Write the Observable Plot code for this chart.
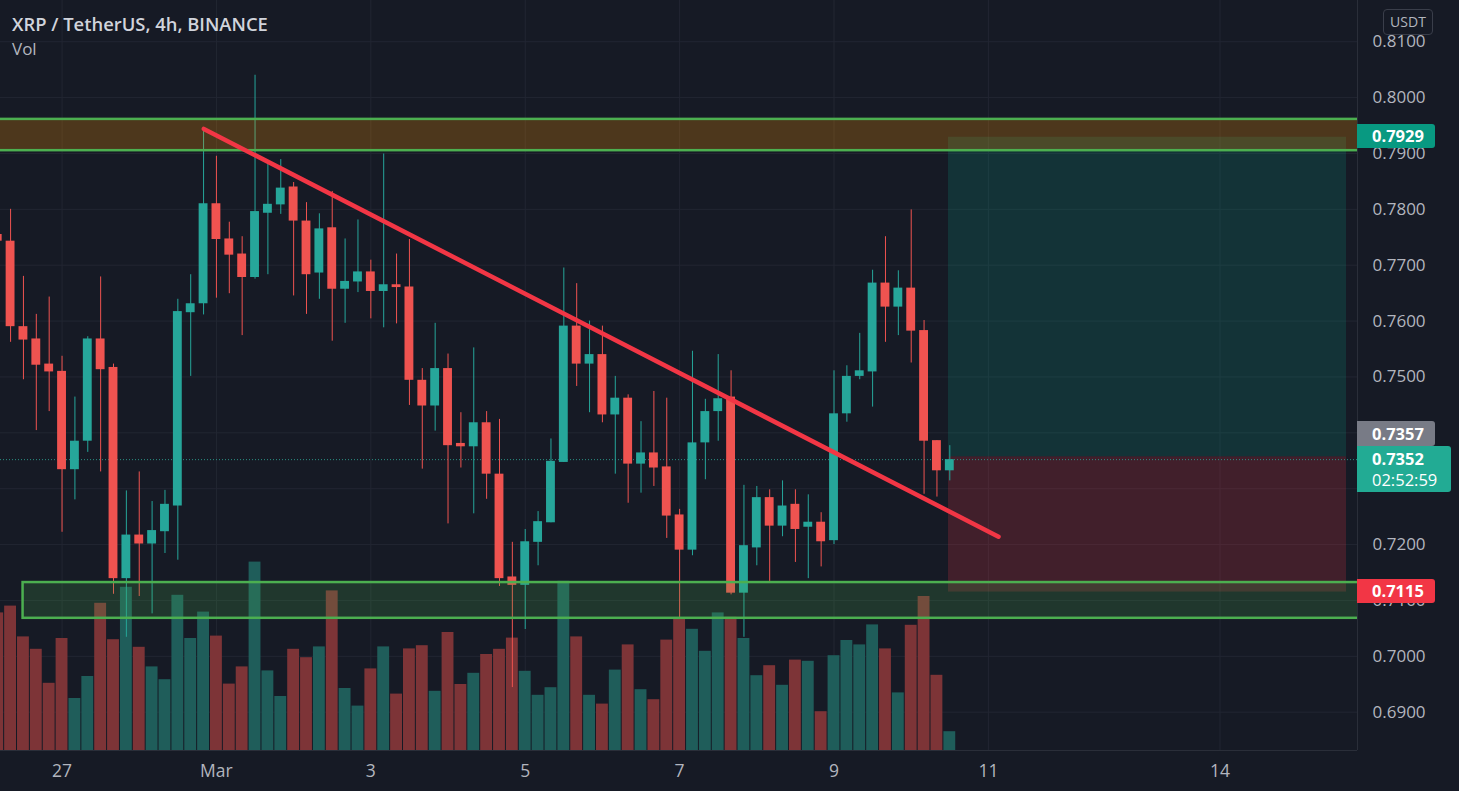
<!DOCTYPE html>
<html><head><meta charset="utf-8">
<script src="https://cdn.jsdelivr.net/npm/d3@7"></script>
<script src="https://cdn.jsdelivr.net/npm/@observablehq/plot@0.6"></script>
<style>
body{margin:0;background:#161a25;}
#wrap{position:relative;width:1459px;height:791px;overflow:hidden;background:#161a25;font-family:"Open Sans","Noto Sans",sans-serif;}
.layer{position:absolute;left:0;top:0;}
.title{position:absolute;left:12px;top:11px;color:#d1d4dc;font-size:18.4px;font-weight:600;white-space:nowrap;}
.vol{position:absolute;left:12px;top:37px;color:#b2b5be;font-size:17px;}
.usdt{position:absolute;left:1383px;top:9px;width:48px;height:24px;border:1px solid #3a3e4a;border-radius:4px;background:#161a25;color:#b2b5be;font-size:14px;line-height:24px;text-align:center;}
.plabel{position:absolute;left:1357px;color:#fff;font-size:16.5px;font-weight:700;padding-left:15px;box-sizing:border-box;border-radius:0 3px 3px 0;white-space:nowrap;}
</style></head>
<body><div id="wrap"></div>
<script>
// ---- data ----
const firstCandle = "2022-02-26T04:00Z"; // 4h candles
const opens = [0.7755,0.7743,0.7590,0.7568,0.7523,0.7510,0.7334,0.7385,0.7568,0.7517,
0.7139,0.7217,0.7201,0.7223,0.7269,0.7615,0.7631,0.7810,0.7747,0.7720,
0.7678,0.7793,0.7808,0.7840,0.7779,0.7686,0.7767,0.7657,0.7670,0.7688,
0.7653,0.7665,0.7661,0.7494,0.7448,0.7515,0.7381,0.7375,0.7418,0.7326,
0.7142,0.7127,0.7204,0.7239,0.7347,0.7591,0.7523,0.7540,0.7432,0.7462,
0.7344,0.7364,0.7339,0.7253,0.7190,0.7382,0.7438,0.7464,0.7113,0.7194,
0.7284,0.7233,0.7272,0.7231,0.7240,0.7207,0.7434,0.7501,0.7509,0.7668,
0.7625,0.7659,0.7583,0.7386,0.7332];
const highs = [0.7765,0.7800,0.7680,0.7612,0.7643,0.7537,0.7464,0.7572,0.7679,0.7523,
0.7296,0.7330,0.7277,0.7297,0.7639,0.7683,0.7944,0.7895,0.7777,0.7751,
0.8040,0.7883,0.7889,0.7848,0.7812,0.7792,0.7832,0.7747,0.7781,0.7709,
0.7899,0.7720,0.7746,0.7515,0.7596,0.7541,0.7436,0.7552,0.7438,0.7424,
0.7204,0.7227,0.7259,0.7389,0.7695,0.7667,0.7600,0.7591,0.7501,0.7468,
0.7420,0.7474,0.7462,0.7263,0.7546,0.7460,0.7540,0.7511,0.7306,0.7304,
0.7298,0.7314,0.7298,0.7289,0.7257,0.7511,0.7520,0.7578,0.7691,0.7751,
0.7690,0.7799,0.7601,0.7386,0.7377];
const lows = [0.7735,0.7562,0.7495,0.7404,0.7438,0.7222,0.7280,0.7365,0.7330,0.7111,
0.7034,0.7107,0.7076,0.7184,0.7172,0.7501,0.7611,0.7641,0.7649,0.7574,
0.7675,0.7683,0.7791,0.7645,0.7612,0.7639,0.7564,0.7596,0.7651,0.7604,
0.7588,0.7595,0.7449,0.7335,0.7403,0.7237,0.7337,0.7255,0.7281,0.7125,
0.6944,0.7048,0.7162,0.7239,0.7347,0.7483,0.7436,0.7418,0.7326,0.7274,
0.7292,0.7304,0.7211,0.7069,0.7180,0.7316,0.7385,0.7110,0.7034,0.7162,
0.7134,0.7214,0.7168,0.7139,0.7160,0.7200,0.7419,0.7495,0.7446,0.7562,
0.7574,0.7525,0.7290,0.7285,0.7314];
const closes = [0.7743,0.7590,0.7566,0.7521,0.7509,0.7334,0.7385,0.7568,0.7513,0.7139,
0.7217,0.7201,0.7225,0.7272,0.7617,0.7631,0.7810,0.7746,0.7718,0.7678,
0.7796,0.7809,0.7838,0.7779,0.7683,0.7765,0.7657,0.7671,0.7688,0.7653,
0.7665,0.7660,0.7494,0.7448,0.7515,0.7377,0.7375,0.7418,0.7326,0.7139,
0.7127,0.7205,0.7241,0.7349,0.7591,0.7523,0.7540,0.7432,0.7462,0.7344,
0.7364,0.7337,0.7251,0.7190,0.7382,0.7438,0.7461,0.7113,0.7198,0.7284,
0.7233,0.7269,0.7227,0.7240,0.7205,0.7434,0.7501,0.7511,0.7668,0.7625,
0.7659,0.7582,0.7385,0.7332,0.7352];
const volumesM = [34.4,36.1,28.4,25.3,16.8,28.0,13.0,18.5,36.8,27.7,
40.8,25.8,20.9,17.7,38.8,28.0,34.6,28.6,16.6,20.9,
47.1,19.9,13.5,25.3,23.2,25.9,39.9,15.5,11.1,20.4,
25.9,14.1,25.4,26.2,14.8,29.5,16.5,19.3,24.0,25.3,
28.1,19.8,13.8,15.7,42.3,28.4,13.8,11.6,20.1,26.4,
15.2,12.7,27.6,32.8,30.3,24.8,34.4,33.3,28.0,18.7,
21.2,16.3,22.6,22.3,9.7,23.7,27.5,26.4,31.4,25.4,
14.4,31.3,38.5,18.8,4.7];

const gridPrices = [0.69,0.70,0.71,0.72,0.73,0.74,0.75,0.76,0.77,0.78,0.79,0.80,0.81];
const labelPrices = [0.69,0.70,0.71,0.72,0.75,0.76,0.77,0.78,0.79,0.80,0.81];
const dayTicks = ["2022-02-27","2022-03-01","2022-03-03","2022-03-05","2022-03-07","2022-03-09","2022-03-11","2022-03-14"];
const dayLabels = ["27","Mar","3","5","7","9","11","14"];

// drawings
const zones = [
  {from:"2022-02-20T00:00Z", to:"2022-03-30T00:00Z", low:0.7905, high:0.7961, kind:"res"},
  {from:"2022-02-26T11:53Z", to:"2022-03-30T00:00Z", low:0.7068, high:0.7132, kind:"sup"}
];
const trendline = [["2022-02-28T20:05Z",0.7944],["2022-03-11T03:09Z",0.7214]];
const position = {from:"2022-03-10T11:35Z", to:"2022-03-15T15:20Z", target:0.7929, entry:0.7357, stop:0.7115};
const lastPrice = 0.7352, countdown = "02:52:59";
const title = "XRP / TetherUS, 4h, BINANCE";

// ---- build ----
const H4 = 4*3600e3;
const t0 = +new Date(firstCandle);
const candles = opens.map((o,i)=>({t:new Date(t0+i*H4), open:o, high:highs[i], low:lows[i], close:closes[i], vol:volumesM[i], up:closes[i]>=o}));
const UP="#26a69a", DOWN="#ef5350";
const ticks = dayTicks.map(d=>new Date(d+"T00:00Z"));
const timeDomain=[new Date("2022-02-26T04:52Z"), new Date("2022-03-15T18:45Z")];
const priceDomain=[0.68314,0.81738];
const FONT='"Open Sans","Noto Sans",sans-serif';
const base = {width:1459,height:791,marginLeft:0,marginRight:102,marginTop:0,marginBottom:41,
  color:{type:"identity"},
  style:{background:"transparent",fontFamily:FONT,fontSize:"17px"}};

const wrap=document.getElementById("wrap");
function add(el){el.classList.add("layer");wrap.appendChild(el);return el;}

// layer 1: grid + axes
add(Plot.plot({...base,
  x:{type:"utc",domain:timeDomain},
  y:{domain:priceDomain},
  marks:[
    Plot.ruleY(gridPrices,{stroke:"#222632"}),
    Plot.ruleX(ticks,{stroke:"#222632"}),
    Plot.axisY(labelPrices,{anchor:"right",tickSize:0,tickPadding:15,tickFormat:d=>d.toFixed(4),fill:"#b2b5be",fontSize:17,label:null}),
    Plot.axisX(ticks,{anchor:"bottom",tickSize:0,tickPadding:14,tickFormat:d=>dayLabels[ticks.findIndex(t=>+t===+d)],fill:"#b2b5be",fontSize:17.5,label:null}),
    Plot.ruleX([timeDomain[1]],{stroke:"#2a2e39"}),
    Plot.ruleY([priceDomain[0]],{stroke:"#2a2e39"})
  ]}));

// layer 2: volume
add(Plot.plot({...base,
  x:{type:"utc",domain:timeDomain,axis:null},
  y:{domain:[0,187.5],axis:null},
  marks:[
    Plot.rectY(candles,{x1:d=>new Date(+d.t-H4/2),x2:d=>new Date(+d.t+H4/2),y:"vol",
      fill:d=>d.up?"#1f5d5a":"#7d3437",insetLeft:0.5,insetRight:0.5,clip:true})
  ]}));

// layer 3: candles and drawings
const posBoxes=[
  {from:position.from,to:position.to,y1:position.entry,y2:position.target,fill:"rgba(8,153,129,0.2)"},
  {from:position.from,to:position.to,y1:position.stop,y2:position.entry,fill:"rgba(242,54,69,0.2)"}
];
const main = add(Plot.plot({...base,
  x:{type:"utc",domain:timeDomain,axis:null},
  y:{domain:priceDomain,axis:null},
  marks:[
    Plot.rect(posBoxes,{x1:d=>new Date(d.from),x2:d=>new Date(d.to),y1:"y1",y2:"y2",fill:"fill",clip:true}),
    Plot.ruleY([lastPrice],{stroke:"#2e9c8f",strokeDasharray:"1,2",strokeOpacity:0.9}),
    Plot.ruleX(candles,{x:"t",y1:"low",y2:"high",stroke:d=>d.up?UP:DOWN,strokeWidth:1,clip:true}),
    Plot.rect(candles,{x1:d=>new Date(+d.t-H4/2),x2:d=>new Date(+d.t+H4/2),y1:"open",y2:"close",
      fill:d=>d.up?UP:DOWN,insetLeft:2,insetRight:2,clip:true}),
    Plot.rect(zones,{x1:d=>new Date(d.from),x2:d=>new Date(d.to),y1:"low",y2:"high",
      fill:d=>d.kind==="res"?"rgba(255,152,0,0.24)":"rgba(76,175,80,0.2)",stroke:"#4caf50",strokeWidth:2.5,clip:true}),
    Plot.line(trendline,{x:d=>new Date(d[0]),y:d=>d[1],stroke:"#f23645",strokeWidth:4.5,strokeLinecap:"round",clip:true})
  ]}));

// title and legend
const tdiv=document.createElement("div");tdiv.className="title";tdiv.textContent=title;wrap.appendChild(tdiv);
const vdiv=document.createElement("div");vdiv.className="vol";vdiv.textContent="Vol";wrap.appendChild(vdiv);
const udiv=document.createElement("div");udiv.className="usdt";udiv.textContent="USDT";wrap.appendChild(udiv);

// price labels on the axis, positioned with the plot's y scale
const ys = main.scale("y");
function label(text, top, height, bg, width){
  const d=document.createElement("div");d.className="plabel";
  d.style.top=top+"px";d.style.height=height+"px";d.style.width=width+"px";d.style.background=bg;
  d.style.lineHeight=height+"px";d.innerHTML=text;wrap.appendChild(d);return d;
}
const yt = ys.apply(position.target), ysl = ys.apply(position.stop), yl = ys.apply(lastPrice);
label(position.target.toFixed(4), yt-13, 24, "#089981", 78);
label(position.stop.toFixed(4), ysl-13, 24, "#f23645", 78);
const lastTop = yl-13;
const l = label(lastPrice.toFixed(4)+"<br><span style='font-weight:400'>"+countdown+"</span>", lastTop, 46, "#22ab94", 94);
l.style.lineHeight="21px"; l.style.paddingTop="2px";
label(position.entry.toFixed(4), lastTop-25, 25, "#787b86", 78);
</script>
</body></html>
